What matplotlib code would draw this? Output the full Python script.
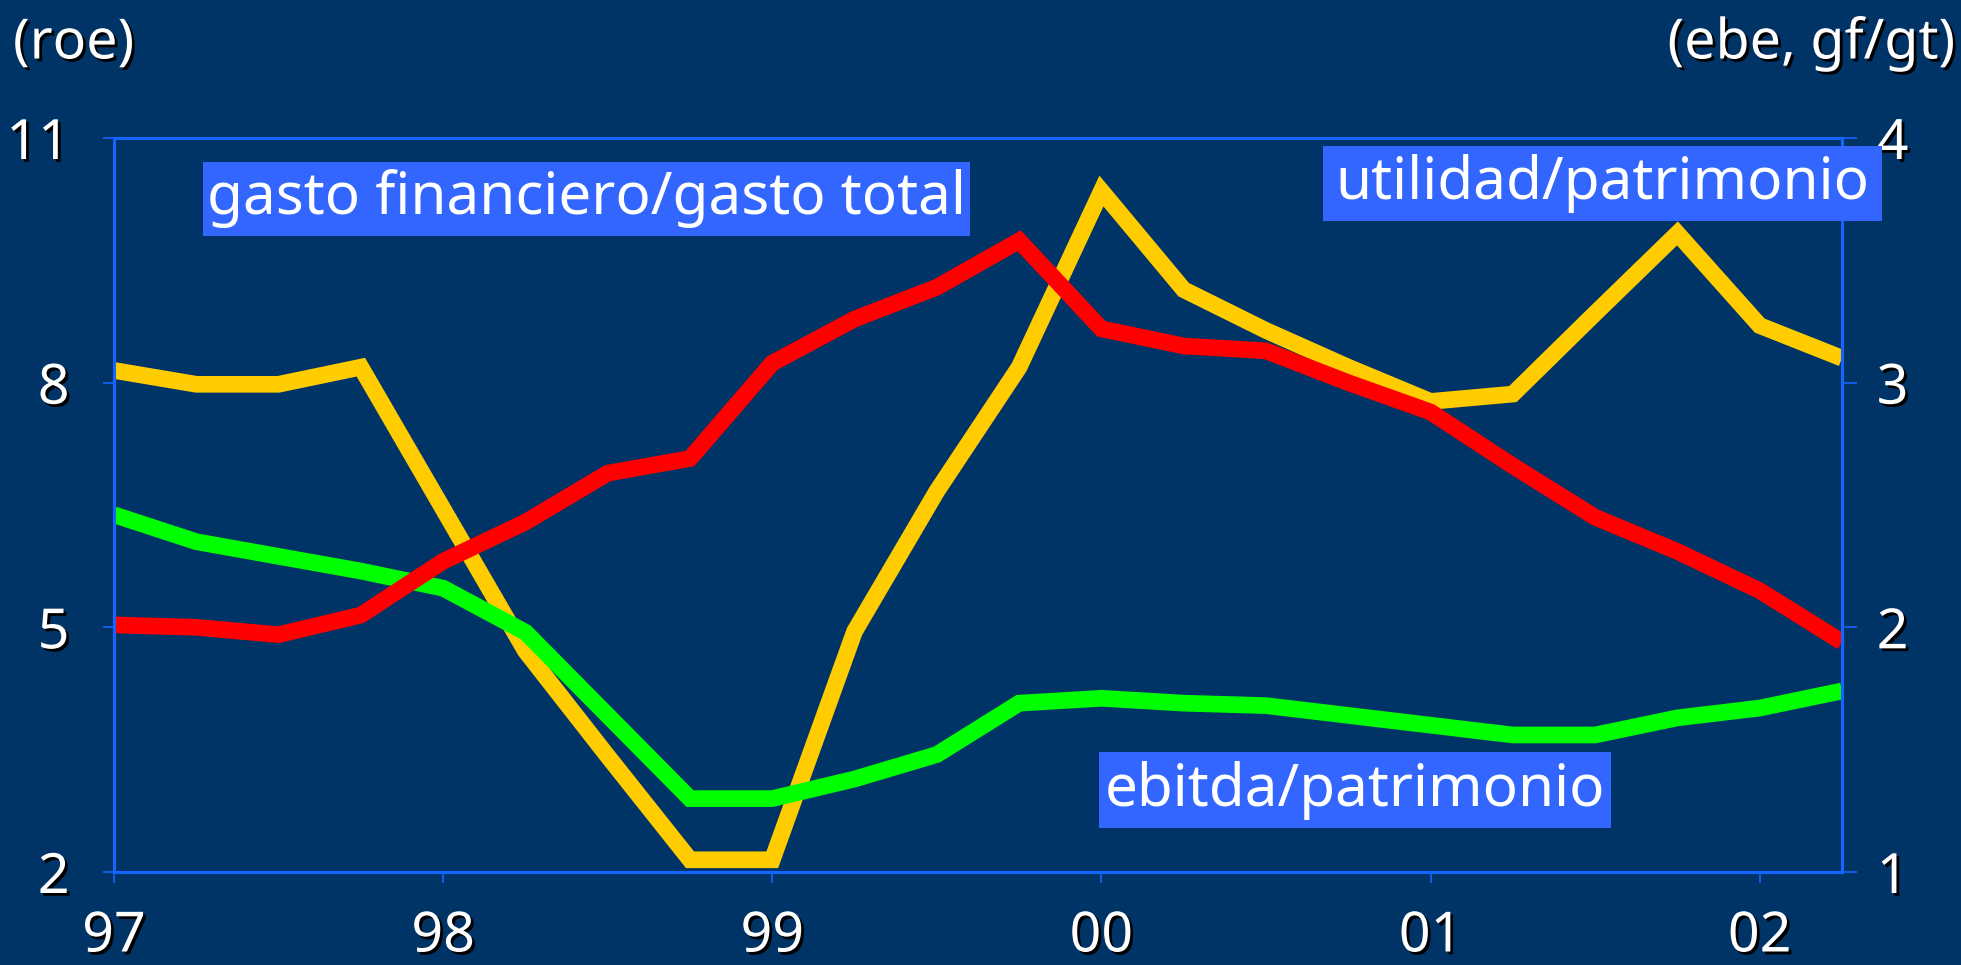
import numpy as np
import matplotlib
matplotlib.use("Agg")
import matplotlib.pyplot as plt
import matplotlib.patheffects as pe
from matplotlib.patches import Rectangle

# ---- data ----
quarters = list(range(22))  # 97Q1 .. 02Q2
year_ticks = [0, 4, 8, 12, 16, 20]
year_labels = ["97", "98", "99", "00", "01", "02"]

# utilidad/patrimonio (roe) - left axis
roe = [8.15, 7.98, 7.98, 8.19, 6.45, 4.71, 3.42, 2.15, 2.15, 4.95, 6.67,
       8.19, 10.35, 9.14, 8.64, 8.19, 7.77, 7.86, 8.85, 9.83, 8.70, 8.30]
# gasto financiero/gasto total - right axis
gf_gt = [2.01, 2.00, 1.97, 2.05, 2.27, 2.43, 2.63, 2.69, 3.08, 3.26, 3.39,
         3.58, 3.22, 3.15, 3.13, 3.00, 2.88, 2.66, 2.45, 2.31, 2.15, 1.94]
# ebitda/patrimonio - right axis
ebe = [2.46, 2.35, 2.29, 2.23, 2.16, 1.98, 1.64, 1.30, 1.30, 1.38, 1.48,
       1.69, 1.71, 1.69, 1.68, 1.64, 1.60, 1.56, 1.56, 1.63, 1.67, 1.74]

left_ticks = [2, 5, 8, 11]
right_ticks = [1, 2, 3, 4]

BG = "#003366"
AXC = "#1464ff"
BOX = "#3366ff"
FONT = "Noto Sans"

plt.rcParams["font.family"] = [FONT, "DejaVu Sans"]

W, H = 1961, 965
fig = plt.figure(figsize=(W / 100, H / 100), dpi=100, facecolor=BG)
ax = fig.add_axes([114 / W, 1 - 872 / H, (1842 - 114) / W, (872 - 138) / H])
ax.set_facecolor(BG)
ax2 = ax.twinx()

shadow = [pe.withSimplePatchShadow(offset=(2, -2), shadow_rgbFace="black", alpha=1.0)]
lkw = dict(lw=12, solid_joinstyle="miter", solid_capstyle="butt")

ax.plot(quarters, roe, color="#ffcc00", **lkw)
ax2.plot(quarters, ebe, color="#00ff00", **lkw)
ax2.plot(quarters, gf_gt, color="#ff0000", **lkw)

ax.set_xlim(0, 21)
ax.set_ylim(2, 11)
ax2.set_ylim(1, 4)
ax.set_xticks(year_ticks)
ax.set_xticklabels(year_labels)
ax.set_yticks(left_ticks)
ax.set_yticklabels([str(t) for t in left_ticks])
ax2.set_yticks(right_ticks)
ax2.set_yticklabels([str(t) for t in right_ticks])

for a in (ax, ax2):
    for s in a.spines.values():
        s.set_color(AXC)
        s.set_linewidth(2.2)

ax.tick_params(axis="x", direction="out", length=8, width=1.2, color=AXC,
               pad=19, labelsize=40, labelcolor="white")
ax.tick_params(axis="y", direction="out", length=8, width=1.2, color=AXC,
               pad=24, labelsize=40, labelcolor="white")
ax2.tick_params(axis="y", direction="out", length=11, width=1.2, color=AXC,
                pad=14, labelsize=40, labelcolor="white")
for lab in ax.get_xticklabels() + ax.get_yticklabels() + ax2.get_yticklabels():
    lab.set_path_effects(shadow)

# axis unit labels
fig.text(13 / W, 1 - 44 / H, "(roe)", color="white", fontsize=40,
         ha="left", va="center", path_effects=shadow)
fig.text(1955 / W, 1 - 44 / H, "(ebe, gf/gt)", color="white", fontsize=40,
         ha="right", va="center", path_effects=shadow)

# labelled boxes (figure pixel extents)
boxes = [
    ("gasto financiero/gasto total", 203, 970, 162, 236),
    ("utilidad/patrimonio", 1323, 1882, 146, 221),
    ("ebitda/patrimonio", 1099, 1611, 752, 828),
]
for text, x0, x1, y0, y1 in boxes:
    fig.patches.append(Rectangle((x0 / W, 1 - y1 / H), (x1 - x0) / W, (y1 - y0) / H,
                                 transform=fig.transFigure, facecolor=BOX,
                                 edgecolor="none", zorder=5))
    fig.text((x0 + x1) / 2 / W, 1 - (y0 + y1) / 2 / H, text, color="white",
             fontsize=42, ha="center", va="center", zorder=6)

fig.savefig("out.png", dpi=100, facecolor=BG)
